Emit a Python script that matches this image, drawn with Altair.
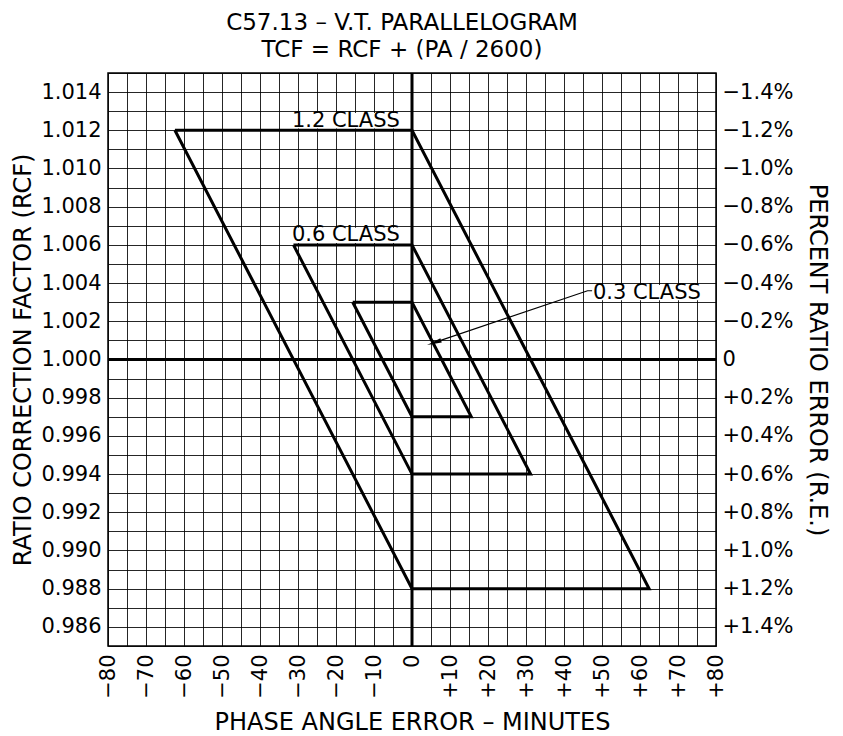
import altair as alt
import pandas as pd

# ---------------- data ----------------
x_ticks = list(range(-80, 81, 5))
x_tick_labels = {-80: "−80", -70: "−70", -60: "−60", -50: "−50", -40: "−40", -30: "−30",
                 -20: "−20", -10: "−10", 0: "0", 10: "+10", 20: "+20", 30: "+30",
                 40: "+40", 50: "+50", 60: "+60", 70: "+70", 80: "+80"}
y_ticks = [round(0.985 + 0.001 * i, 3) for i in range(31)]
rcf_labels = {0.986: "0.986", 0.988: "0.988", 0.990: "0.990", 0.992: "0.992", 0.994: "0.994",
              0.996: "0.996", 0.998: "0.998", 1.000: "1.000", 1.002: "1.002", 1.004: "1.004",
              1.006: "1.006", 1.008: "1.008", 1.010: "1.010", 1.012: "1.012", 1.014: "1.014"}
re_labels = {0.986: "+1.4%", 0.988: "+1.2%", 0.990: "+1.0%", 0.992: "+0.8%", 0.994: "+0.6%",
             0.996: "+0.4%", 0.998: "+0.2%", 1.000: "0", 1.002: "−0.2%", 1.004: "−0.4%",
             1.006: "−0.6%", 1.008: "−0.8%", 1.010: "−1.0%", 1.012: "−1.2%", 1.014: "−1.4%"}

# parallelogram vertices (phase angle minutes, RCF)
pa_1_2 = [-62.4, 0, 62.4, 0, -62.4]
rcf_1_2 = [1.012, 1.012, 0.988, 0.988, 1.012]
pa_0_6 = [-31.2, 0, 31.2, 0, -31.2]
rcf_0_6 = [1.006, 1.006, 0.994, 0.994, 1.006]
pa_0_3 = [-15.6, 0, 15.6, 0, -15.6]
rcf_0_3 = [1.003, 1.003, 0.997, 0.997, 1.003]

# class labels
label_text = ["1.2 CLASS", "0.6 CLASS", "0.3 CLASS"]
label_x = [-3.2, -3.2, 47.6]
label_y = [1.0125, 1.0065, 1.0035]
label_align = ["right", "right", "left"]
# label background boxes
box_x = [-32.5, -32.5, 46.2]
box_x2 = [-0.6, -0.6, 79.6]
box_y = [1.0121, 1.0061, 1.0031]
box_y2 = [1.0129, 1.0069, 1.0039]

# leader for 0.3 class
leader_x = [47.4, 46.2, 5.8]
leader_y = [1.0036, 1.0036, 1.00088]
arrow_x = [5.8]
arrow_y = [1.00088]

# ---------------- frames ----------------
rows = []
for name, xs, ys in [("1.2", pa_1_2, rcf_1_2), ("0.6", pa_0_6, rcf_0_6), ("0.3", pa_0_3, rcf_0_3)]:
    for i, (a, b) in enumerate(zip(xs, ys)):
        rows.append({"cls": name, "x": a, "y": b, "ord": i})
poly_df = pd.DataFrame(rows)
lab_df = pd.DataFrame({"t": label_text, "x": label_x, "y": label_y, "al": label_align})
box_df = pd.DataFrame({"x": box_x, "x2": box_x2, "y": box_y, "y2": box_y2})
lead_df = pd.DataFrame({"x": leader_x, "y": leader_y, "o": [0, 1, 2]})
arrow_df = pd.DataFrame({"x": arrow_x, "y": arrow_y})

FONT = "DejaVu Sans"
XDOM = [-80, 80]
YDOM = [0.985, 1.015]
LBL = 21
TTL = 24


def expr_from(d, tol):
    parts = []
    for k, v in d.items():
        parts.append(f"abs(datum.value - ({k})) < {tol} ? '{v}'")
    return " : ".join(parts) + " : ''"


xscale = alt.Scale(domain=XDOM, nice=False, zero=False)
yscale = alt.Scale(domain=YDOM, nice=False, zero=False)

x_axis = alt.Axis(values=x_ticks, labelExpr=expr_from(x_tick_labels, 0.01), labelAngle=270,
                  labelAlign="right", labelBaseline="middle", labelPadding=8,
                  grid=True, gridColor="#000", gridWidth=1, gridOpacity=0.85,
                  domain=False, ticks=False, title="PHASE ANGLE ERROR – MINUTES",
                  titlePadding=12, labelFont=FONT, labelFontSize=LBL, labelColor="#000",
                  titleFont=FONT, titleFontSize=TTL, titleFontWeight="normal", titleColor="#000",
                  labelOverlap=False, labelFlush=False)
y_axis = alt.Axis(values=y_ticks, labelExpr=expr_from(rcf_labels, 0.0001), grid=True,
                  gridColor="#000", gridWidth=1, gridOpacity=0.85, domain=False, ticks=False,
                  labelPadding=7, title="RATIO CORRECTION FACTOR (RCF)", titlePadding=5,
                  labelFont=FONT, labelFontSize=LBL, labelColor="#000",
                  titleFont=FONT, titleFontSize=TTL, titleFontWeight="normal", titleColor="#000",
                  labelOverlap=False, labelFlush=False)
y_axis_r = alt.Axis(values=y_ticks, labelExpr=expr_from(re_labels, 0.0001), grid=False,
                    orient="right", domain=False, ticks=False, labelPadding=6,
                    title="PERCENT RATIO ERROR (R.E.)", titlePadding=12,
                    labelFont=FONT, labelFontSize=LBL, labelColor="#000",
                    titleFont=FONT, titleFontSize=TTL, titleFontWeight="normal", titleColor="#000",
                    labelOverlap=False, labelFlush=False)


def X(field):
    return alt.X(field, scale=xscale, axis=x_axis)


def Y(field):
    return alt.Y(field, scale=yscale, axis=y_axis)


grid_layer = alt.Chart(pd.DataFrame({"x": [0], "y": [1.0]})).mark_point(opacity=0).encode(
    x=X("x:Q"), y=Y("y:Q"))

zero_v = alt.Chart(pd.DataFrame({"x": [0]})).mark_rule(color="#000", strokeWidth=3).encode(
    x=X("x:Q"))
zero_h = alt.Chart(pd.DataFrame({"y": [1.0]})).mark_rule(color="#000", strokeWidth=3).encode(
    y=Y("y:Q"))

boxes = alt.Chart(box_df).mark_rect(color="white").encode(
    x=X("x:Q"), x2="x2:Q", y=Y("y:Q"), y2="y2:Q")

polys = alt.Chart(poly_df).mark_line(color="#000", strokeWidth=3, strokeJoin="miter").encode(
    x=X("x:Q"), y=Y("y:Q"), detail="cls:N", order="ord:Q")

text_right = alt.Chart(lab_df[lab_df.al == "right"]).mark_text(
    align="right", baseline="middle", font=FONT, fontSize=LBL, color="#000").encode(
    x=X("x:Q"), y=Y("y:Q"), text="t:N")
text_left = alt.Chart(lab_df[lab_df.al == "left"]).mark_text(
    align="left", baseline="middle", font=FONT, fontSize=LBL, color="#000").encode(
    x=X("x:Q"), y=Y("y:Q"), text="t:N")

leader = alt.Chart(lead_df).mark_line(color="#000", strokeWidth=1.2).encode(
    x=X("x:Q"), y=Y("y:Q"), order="o:Q")
arrow = alt.Chart(arrow_df).mark_point(
    shape="M0,-1L0.3,1L-0.3,1Z", filled=True, color="#000", opacity=1, size=220, angle=252,
    ).encode(x=X("x:Q"), y=Y("y:Q"))

left = alt.layer(grid_layer, boxes, zero_v, zero_h, polys, text_right, text_left, leader, arrow)

right = alt.Chart(pd.DataFrame({"x": [0], "y": [1.0]})).mark_point(opacity=0).encode(
    x=X("x:Q"),
    y=alt.Y("y:Q", scale=yscale, axis=y_axis_r))

chart = alt.layer(left, right).resolve_scale(y="independent").properties(
    width=608, height=573,
    title=alt.TitleParams(text=["C57.13 – V.T. PARALLELOGRAM", "TCF = RCF + (PA / 2600)"],
                          font=FONT, fontSize=23, fontWeight="normal", color="#000",
                          lineHeight=27, offset=0, anchor="middle", dx=-10),
    padding={"left": 3, "top": 4, "right": 3, "bottom": 0},
).configure_view(stroke="#000", strokeWidth=1.5)

chart.save("out.html", embed_options={"renderer": "svg", "actions": False})
